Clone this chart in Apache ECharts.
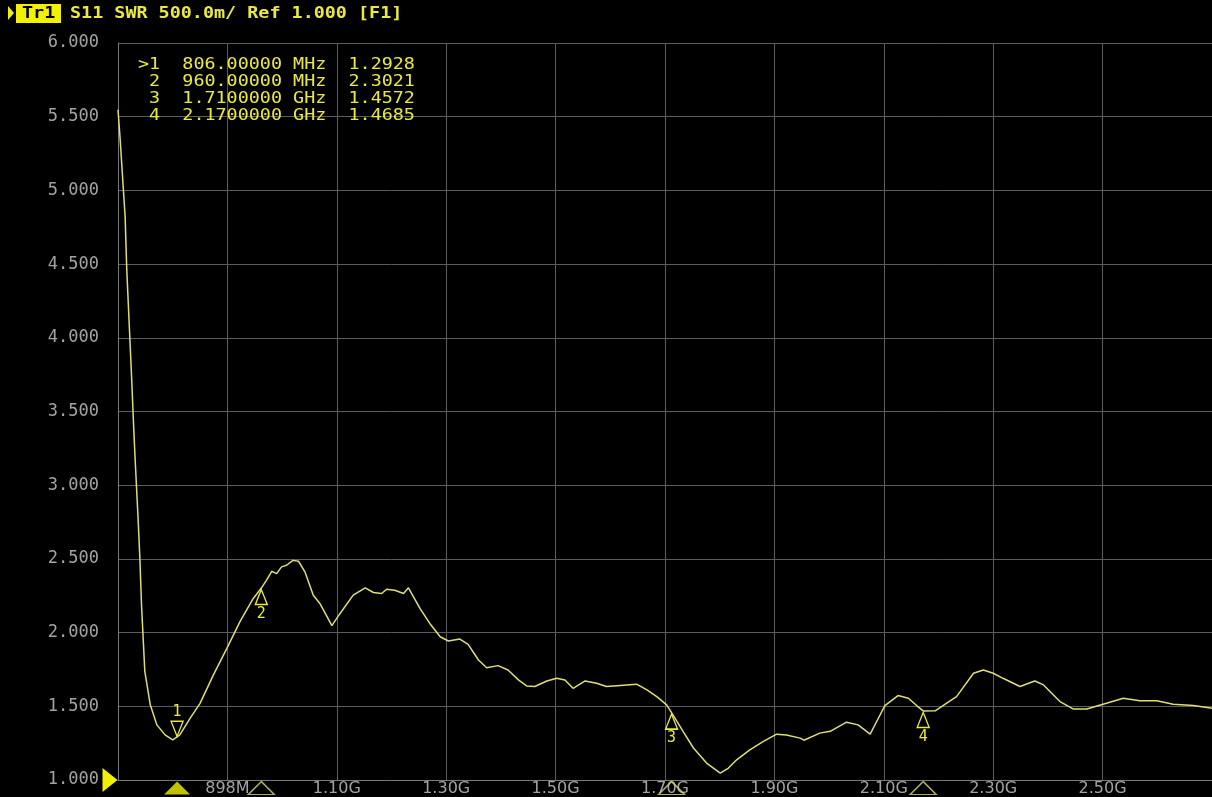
<!DOCTYPE html>
<html><head><meta charset="utf-8">
<script src="https://cdn.jsdelivr.net/npm/echarts@6/dist/echarts.min.js"></script>
<style>html,body{margin:0;padding:0;background:#000;overflow:hidden}#c{width:1212px;height:797px;}</style>
</head><body><div id="c"></div>
<script>
// ---- data ----
const freqMHz = [698,702,707,711,714,717,720,723,726,729,732,735,738,741,747,757,769,784,798,806,811,830,848,872,897,921,945,960,969,979,988,997,1006,1018,1028,1040,1055,1067,1089,1104,1128,1150,1165,1180,1189,1204,1220,1229,1250,1268,1287,1302,1323,1338,1357,1372,1393,1411,1430,1445,1460,1482,1500,1515,1530,1552,1573,1591,1610,1628,1646,1665,1683,1701,1710,1731,1750,1774,1799,1814,1829,1853,1878,1902,1920,1945,1952,1981,2000,2030,2051,2073,2085,2100,2124,2143,2158,2170,2192,2213,2231,2262,2280,2298,2316,2347,2374,2390,2420,2444,2469,2505,2536,2566,2597,2627,2664,2698];
const swr = [5.547,5.344,5.053,4.825,4.464,4.216,3.970,3.720,3.449,3.201,2.976,2.752,2.502,2.186,1.737,1.510,1.374,1.306,1.273,1.2928,1.306,1.420,1.520,1.710,1.893,2.074,2.230,2.3021,2.353,2.416,2.400,2.446,2.457,2.490,2.484,2.410,2.254,2.198,2.047,2.130,2.254,2.304,2.272,2.265,2.294,2.287,2.265,2.304,2.164,2.062,1.972,1.943,1.956,1.920,1.814,1.762,1.776,1.746,1.679,1.638,1.634,1.672,1.690,1.679,1.622,1.672,1.656,1.634,1.640,1.645,1.650,1.611,1.566,1.510,1.4572,1.330,1.217,1.115,1.047,1.081,1.137,1.205,1.262,1.311,1.306,1.284,1.270,1.318,1.330,1.392,1.374,1.311,1.397,1.505,1.573,1.555,1.505,1.4685,1.469,1.521,1.566,1.724,1.746,1.724,1.690,1.634,1.672,1.645,1.532,1.482,1.482,1.521,1.555,1.537,1.537,1.514,1.505,1.487];
const markerNames = ['1','2','3','4'];
const markerFreq = [806, 960, 1710, 2170];
const markerSwr = [1.2928, 2.3021, 1.4572, 1.4685];
const activeMarker = 0;
const traceTitle = 'Tr1';
const headerText = 'S11 SWR 500.0m/ Ref 1.000 [F1]';
const xStart = 698, xStop = 2698, xStep = 200;
const yMin = 1, yMax = 6, yStep = 0.5;

// ---- styles ----
const YEL = '#e9e944';
const TRACE = '#dede78';
const GRID = '#5c5c5c';
const LABEL = '#a3a3a3';
const MONO = '"DejaVu Sans Mono", "Liberation Mono", monospace';

function fmtFreq(f){ return f < 1000 ? f.toFixed(5) + ' MHz' : (f/1000).toFixed(7) + ' GHz'; }
const tableLines = markerNames.map((n,i) => (i===activeMarker?'>':' ') + n + '  ' + fmtFreq(markerFreq[i]) + '  ' + markerSwr[i].toFixed(4));

const chart = echarts.init(document.getElementById('c'));
const lineData = freqMHz.map((f,i)=>[f, swr[i]]);

const markData = markerNames.map((n,i)=>{
  const active = i===activeMarker;
  return {
    coord:[markerFreq[i], markerSwr[i]],
    symbol:'triangle',
    symbolSize:[12,15],
    symbolRotate: active?180:0,
    symbolOffset: active?[0,-8]:[0,9],
    itemStyle:{color:'rgba(0,0,0,0)', borderColor:YEL, borderWidth:1.4},
    label:{show:true, formatter:n, position: active?'top':'bottom', distance: 1, color:YEL, fontSize:15, fontFamily:MONO}
  };
});

const option = {
  backgroundColor:'#000',
  animation:false,
  grid:{left:118, right:0, top:43, bottom:15},
  xAxis:{
    type:'value', min:xStart, max:xStop, interval:xStep,
    axisLine:{show:true, lineStyle:{color:'#7a7a7a', width:1}},
    axisTick:{show:false},
    splitLine:{show:true, lineStyle:{color:GRID, width:1}},
    axisLabel:{
      show:true, margin:1, color:LABEL, fontSize:16, fontFamily:'"DejaVu Sans", sans-serif',
      showMinLabel:false, showMaxLabel:false,
      formatter:v => v < 1000 ? Math.round(v)+'M' : (v/1000).toFixed(2)+'G'
    }
  },
  yAxis:{
    type:'value', min:yMin, max:yMax, interval:yStep,
    axisLine:{show:true, lineStyle:{color:'#7a7a7a', width:1}},
    axisTick:{show:false},
    splitLine:{show:true, lineStyle:{color:GRID, width:1}},
    axisLabel:{
      margin:19, fontSize:17, fontFamily:MONO,
      color: v => v === yMin ? YEL : LABEL,
      formatter: v => v.toFixed(3)
    }
  },
  series:[
    {
      type:'line', data:lineData, showSymbol:false, symbol:'none', clip:false,
      lineStyle:{color:TRACE, width:1.5},
      markPoint:{ symbolKeepAspect:false, data: markData.concat([{
          coord:[xStart, yMin], symbol:'triangle', symbolSize:[24,15], symbolRotate:-90, symbolOffset:[-8,0],
          itemStyle:{color:'#f2f200'}, label:{show:false}
      }])}
    },
    {
      type:'scatter', clip:false, silent:true,
      data: markerFreq.map((f,i)=>({
        value:[f, yMin],
        itemStyle: i===activeMarker ? {color:'#f2f200'} : {color:'rgba(0,0,0,0)', borderColor:'#d8d870', borderWidth:1.4}
      })),
      symbol:'triangle', symbolSize:[26,13], symbolOffset:[0,8], z:5
    }
  ],
  graphic:[
    {type:'polygon', shape:{points:[[8,6],[14,13],[8,20]]}, style:{fill:'#f2f200'}},
    {type:'rect', shape:{x:16, y:4, width:45, height:19}, style:{fill:'#f2f200'}},
    {type:'text', x:22, y:14, scaleX:1.15, style:{text:traceTitle, fill:'#000', font:'bold 16px '+MONO, textVerticalAlign:'middle'}},
    {type:'text', x:70, y:14, scaleX:1.15, style:{text:headerText, fill:YEL, font:'bold 16px '+MONO, textVerticalAlign:'middle'}}
  ].concat(tableLines.map((t,i)=>({
    type:'text', x:138, y:65+17*i, scaleX:1.15, z:10,
    style:{text:t, fill:YEL, font:'16px '+MONO, textVerticalAlign:'middle', whiteSpace:'pre'}
  })))
};
chart.setOption(option);
</script></body></html>
